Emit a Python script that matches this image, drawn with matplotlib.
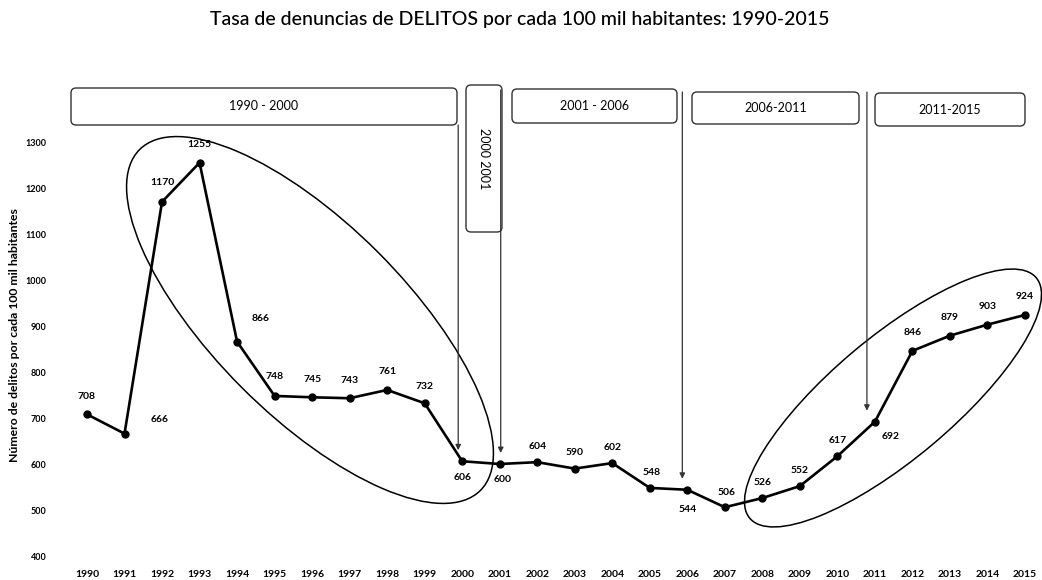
import matplotlib
matplotlib.use("Agg")
import matplotlib.pyplot as plt
from matplotlib.patches import Ellipse, FancyBboxPatch

# ---------------- data ----------------
years = list(range(1990, 2016))
values = [708, 666, 1170, 1255, 866, 748, 745, 743, 761, 732, 606, 600, 604,
          590, 602, 548, 544, 506, 526, 552, 617, 692, 846, 879, 903, 924]
# label offsets in pixels (dx, dy; dy positive = up)
label_offsets = [(0, 18), (35, 14), (0, 19), (0, 18), (24, 23), (0, 19), (0, 18),
                 (0, 18), (0, 18), (0, 17), (0, -16), (3, -16), (0, 16), (0, 16),
                 (0, 16), (2, 15), (0, -20), (2, 15), (0, 16), (0, 16), (0, 16),
                 (16, -15), (0, 18), (0, 18), (0, 18), (0, 18)]
y_ticks = [400, 500, 600, 700, 800, 900, 1000, 1100, 1200, 1300]
title = "Tasa de denuncias de DELITOS por cada 100 mil habitantes: 1990-2015"
ylabel = "Número de delitos por cada 100 mil habitantes"

# period boxes: (label, left px, top px, right px, bottom px, rotated)
periods = ["1990 - 2000", "2000 2001", "2001 - 2006", "2006-2011", "2011-2015"]
box_geom = [(71, 88, 457, 125, False), (466, 85, 502, 232, True),
            (512, 89, 677, 123, False), (692, 92, 859, 124, False),
            (875, 93, 1025, 126, False)]
# arrows: (target year, start top px, x offset px)
arrow_years = [2000, 2001, 2006, 2011]
arrow_geom = [(125, -4), (90, 1), (92, -5), (92, -8)]

W, H = 1042, 580
fig = plt.figure(figsize=(W / 100, H / 100), dpi=100)
fig.patch.set_facecolor("white")

font = "Lato"

# main axes: 1990 -> px 87, 2015 -> px 1025 ; 1300 -> py 142, 400 -> py 556
ax_l, ax_r, ax_t, ax_b = 55, 1038, 130, 560
ax = fig.add_axes([ax_l / W, (H - ax_b) / H, (ax_r - ax_l) / W, (ax_b - ax_t) / H])
xs = 37.52  # px per year
ys = 0.46   # px per unit
ax.set_xlim(1990 - (87 - ax_l) / xs, 2015 + (ax_r - 1025) / xs)
ax.set_ylim(400 - (ax_b - 556) / ys, 1300 + (142 - ax_t) / ys)
for s in ax.spines.values():
    s.set_visible(False)
ax.set_xticks(years)
ax.set_xticklabels([str(y) for y in years], fontsize=7.5, fontweight="bold",
                   family=font)
ax.set_yticks(y_ticks)
ax.set_yticklabels([str(v) for v in y_ticks], fontsize=6.5, fontweight="bold",
                   family=font)
ax.tick_params(length=0)
ax.tick_params(axis="x", pad=7)
ax.tick_params(axis="y", pad=6)
ax.set_ylabel(ylabel, fontsize=8.8, fontweight="bold", family=font)
ax.yaxis.set_label_coords((20 - ax_l) / (ax_r - ax_l), (ax_b - 335) / (ax_b - ax_t))

ax.plot(years, values, color="black", lw=1.9, marker="o", markersize=5,
        zorder=3)

for yr, v, (dx, dy) in zip(years, values, label_offsets):
    ax.annotate(str(v), (yr, v), xytext=(dx * 0.72, dy * 0.72),
                textcoords="offset points", ha="center", va="center",
                fontsize=7.5, fontweight="bold", family=font)

# overlay axes in figure pixels (y up)
ov = fig.add_axes([0, 0, 1, 1], facecolor="none")
ov.set_xlim(0, W)
ov.set_ylim(0, H)
ov.axis("off")

# ellipses
ov.add_patch(Ellipse((310, H - 320), 482, 192, angle=-45, fill=False,
                     ec="black", lw=1.1))
ov.add_patch(Ellipse((893, H - 398), 374, 122, angle=40, fill=False,
                     ec="black", lw=1.1))

# boxes
for lab, (l, t, r, b, rot) in zip(periods, box_geom):
    ov.add_patch(FancyBboxPatch((l + 4, H - b + 4), (r - l) - 8, (b - t) - 8,
                                boxstyle="round,pad=4,rounding_size=5",
                                fill=False, ec="#333333", lw=1.0))
    ov.text((l + r) / 2, H - (t + b) / 2, lab,
            ha="center", va="center", fontsize=9, family=font,
            rotation=270 if rot else 0)

# arrows
for yr, (top, dxp) in zip(arrow_years, arrow_geom):
    v = values[years.index(yr)]
    px = 87 + (yr - 1990) * xs + dxp
    py = 142 + (1300 - v) * ys
    ov.annotate("", xy=(px, H - py + 11), xytext=(px, H - top),
                arrowprops=dict(arrowstyle="-|>", color="#333333", lw=0.9,
                                mutation_scale=8, shrinkA=0, shrinkB=0))

fig.text(520 / W, 1 - 20 / H, title, ha="center", va="center", fontsize=14,
         family=font, fontweight="medium")

fig.savefig("out.png", dpi=100, facecolor="white")
